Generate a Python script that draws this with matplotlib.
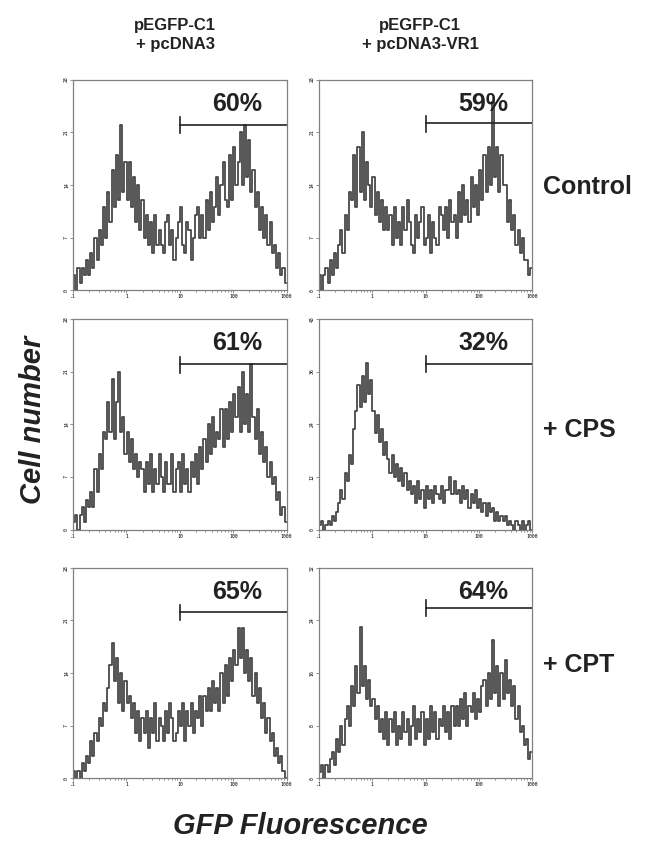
import numpy as np
import matplotlib
matplotlib.use("Agg")
import matplotlib.pyplot as plt
from matplotlib.ticker import LogLocator, NullFormatter

plt.rcParams['font.family'] = ['Liberation Sans', 'DejaVu Sans']

# Histogram counts, 100 log-spaced channels from 0.1 to 1000
ctrl_vec = [2, 0, 3, 1, 3, 2, 4, 2, 5, 3, 7, 4, 8, 6, 11, 7, 13, 9, 16, 11,
            18, 12, 22, 13, 17, 12, 17, 11, 15, 9, 14, 8, 12, 7, 10, 6, 9, 5, 10, 6,
            8, 6, 5, 9, 10, 6, 8, 4, 7, 9, 11, 6, 5, 9, 8, 4, 7, 10, 11, 7,
            10, 7, 12, 8, 13, 9, 11, 15, 10, 14, 17, 12, 11, 18, 12, 19, 14, 17, 21, 14,
            22, 15, 20, 13, 16, 11, 13, 8, 11, 7, 10, 6, 9, 5, 6, 3, 5, 2, 3, 1]
ctrl_vr1 = [2, 0, 2, 3, 1, 4, 2, 5, 3, 6, 8, 5, 10, 8, 13, 12, 18, 11, 19, 13,
            21, 12, 17, 14, 11, 15, 10, 13, 9, 12, 8, 11, 8, 10, 6, 11, 7, 9, 6, 11,
            8, 12, 9, 6, 5, 10, 7, 9, 11, 6, 7, 10, 5, 9, 7, 6, 11, 10, 8, 11,
            7, 12, 9, 10, 7, 13, 9, 14, 10, 12, 9, 15, 11, 14, 10, 16, 12, 18, 13, 19,
            14, 25, 15, 19, 13, 18, 14, 14, 9, 12, 8, 10, 6, 8, 5, 7, 4, 4, 2, 3]
cps_vec = [1, 2, 0, 2, 3, 1, 4, 3, 5, 3, 8, 5, 10, 8, 13, 12, 17, 13, 20, 12,
           17, 21, 13, 15, 10, 13, 9, 12, 8, 10, 7, 9, 8, 5, 9, 6, 10, 5, 8, 6,
           10, 7, 5, 9, 6, 6, 10, 5, 8, 9, 5, 10, 6, 8, 5, 9, 7, 10, 6, 11,
           8, 12, 9, 14, 10, 15, 11, 13, 12, 16, 11, 16, 12, 17, 13, 18, 15, 19, 13, 21,
           14, 18, 13, 22, 15, 12, 16, 10, 13, 9, 11, 7, 9, 6, 7, 4, 5, 2, 3, 1]
cps_vr1 = [1, 2, 0, 1, 2, 1, 3, 2, 4, 6, 9, 7, 13, 11, 17, 15, 23, 27, 33, 28,
           35, 29, 38, 31, 34, 27, 22, 26, 20, 23, 17, 20, 16, 13, 17, 12, 15, 11, 14, 10,
           13, 9, 11, 8, 10, 6, 11, 7, 9, 5, 10, 7, 9, 6, 10, 8, 7, 10, 6, 9,
           9, 12, 8, 11, 8, 9, 6, 10, 7, 9, 5, 8, 6, 9, 5, 7, 4, 6, 3, 6,
           4, 5, 2, 4, 2, 3, 2, 3, 1, 2, 1, 0, 2, 1, 0, 2, 0, 1, 2, 0]
cpt_vec = [1, 0, 1, 0, 2, 1, 3, 2, 5, 3, 6, 5, 8, 7, 10, 9, 12, 15, 18, 13,
           16, 10, 14, 9, 13, 10, 11, 8, 10, 6, 9, 5, 8, 6, 9, 4, 8, 6, 10, 5,
           8, 7, 5, 9, 6, 10, 8, 5, 6, 9, 7, 10, 5, 9, 7, 10, 6, 9, 8, 11,
           7, 11, 9, 12, 9, 13, 10, 12, 9, 14, 10, 15, 11, 16, 13, 17, 15, 20, 16, 20,
           14, 17, 13, 16, 11, 14, 10, 12, 8, 10, 6, 8, 5, 6, 3, 4, 2, 3, 1, 0]
cpt_vr1 = [1, 2, 0, 2, 1, 3, 4, 2, 6, 4, 8, 5, 9, 11, 8, 14, 11, 17, 13, 23,
           14, 17, 12, 15, 11, 12, 9, 11, 7, 9, 6, 10, 5, 9, 7, 10, 5, 8, 6, 10,
           7, 9, 5, 8, 11, 6, 9, 7, 10, 5, 9, 6, 11, 7, 10, 6, 9, 8, 11, 7,
           10, 6, 11, 8, 11, 8, 12, 9, 13, 8, 11, 10, 13, 9, 12, 10, 14, 15, 11, 16,
           12, 21, 13, 17, 11, 16, 12, 18, 13, 15, 11, 14, 9, 11, 7, 8, 5, 6, 3, 4]

col_titles = ['pEGFP-C1\n+ pcDNA3', 'pEGFP-C1\n+ pcDNA3-VR1']
row_labels = ['Control', '+ CPS', '+ CPT']
counts = [[ctrl_vec, ctrl_vr1], [cps_vec, cps_vr1], [cpt_vec, cpt_vr1]]
y_max = [[28, 28], [28, 48], [28, 32]]
gate_pct = [['60%', '59%'], ['61%', '32%'], ['65%', '64%']]
gate_level = [[22, 22.2], [22, 37.8], [22.1, 25.9]]
gate_lo, gate_hi = 10, 1000
x_ticks = [0.1, 1, 10, 100, 1000]
x_ticklabels = ['.1', '1', '10', '100', '1000']

edges = np.logspace(-1, 3, 101)
centers = np.sqrt(edges[:-1] * edges[1:])

fig = plt.figure(figsize=(6.47, 8.46), dpi=100)

lefts = [0.113, 0.493]
bottoms = [0.657, 0.374, 0.080]
w, h = 0.330, 0.249

for r in range(3):
    for c in range(2):
        ax = fig.add_axes([lefts[c], bottoms[r], w, h])
        y = counts[r][c]
        ax.plot(centers, y, drawstyle='steps-mid', color='#484848', lw=1.3)
        ax.set_xscale('log')
        ax.set_xlim(0.1, 1000)
        ym = y_max[r][c]
        ax.set_ylim(0, ym)

        # gate marker
        gl = gate_level[r][c]
        ax.plot([gate_lo, gate_hi], [gl, gl], color='#222222', lw=1.2, clip_on=False)
        ax.plot([gate_lo, gate_lo], [gl - ym * 0.04, gl + ym * 0.035], color='#222222', lw=1.2)
        ax.text(0.77, 0.885, gate_pct[r][c], transform=ax.transAxes, ha='center',
                va='center', fontsize=18, fontweight='bold', color='#222222')

        ax.set_xticks(x_ticks)
        ax.set_xticklabels(x_ticklabels, fontsize=3.5, family='DejaVu Sans Mono')
        ax.xaxis.set_minor_locator(LogLocator(base=10, subs=np.arange(2, 10)))
        ax.xaxis.set_minor_formatter(NullFormatter())
        yt = [0, ym / 4, ym / 2, 3 * ym / 4, ym]
        ax.set_yticks(yt)
        ax.set_yticklabels([str(int(v)) for v in yt], fontsize=3.5, rotation=90,
                           va='center', family='DejaVu Sans Mono')
        ax.tick_params(which='both', length=2, width=0.5, color='#666666', pad=1)
        ax.tick_params(which='minor', length=1.2)
        for s in ax.spines.values():
            s.set_color('#808080')
            s.set_linewidth(0.9)

# column titles
fig.text(175 / 647, 1 - 35 / 846, col_titles[0], ha='center', va='center',
         fontsize=12, fontweight='bold', color='#222222', linespacing=1.3)
fig.text(420 / 647, 1 - 35 / 846, col_titles[1], ha='center', va='center',
         fontsize=12, fontweight='bold', color='#222222', linespacing=1.3)

# row labels
for lab, yp in zip(row_labels, [187, 430, 665]):
    fig.text(543 / 647, 1 - yp / 846, lab, ha='left', va='center',
             fontsize=18, fontweight='bold', color='#222222')

fig.text(33 / 647, 1 - 420 / 846, 'Cell number', rotation=90, ha='center',
         va='center', fontsize=21, fontweight='bold', style='italic', color='#222222')
fig.text(300 / 647, 1 - 826 / 846, 'GFP Fluorescence', ha='center', va='center',
         fontsize=21, fontweight='bold', style='italic', color='#222222')

fig.savefig('out.png', dpi=100)
